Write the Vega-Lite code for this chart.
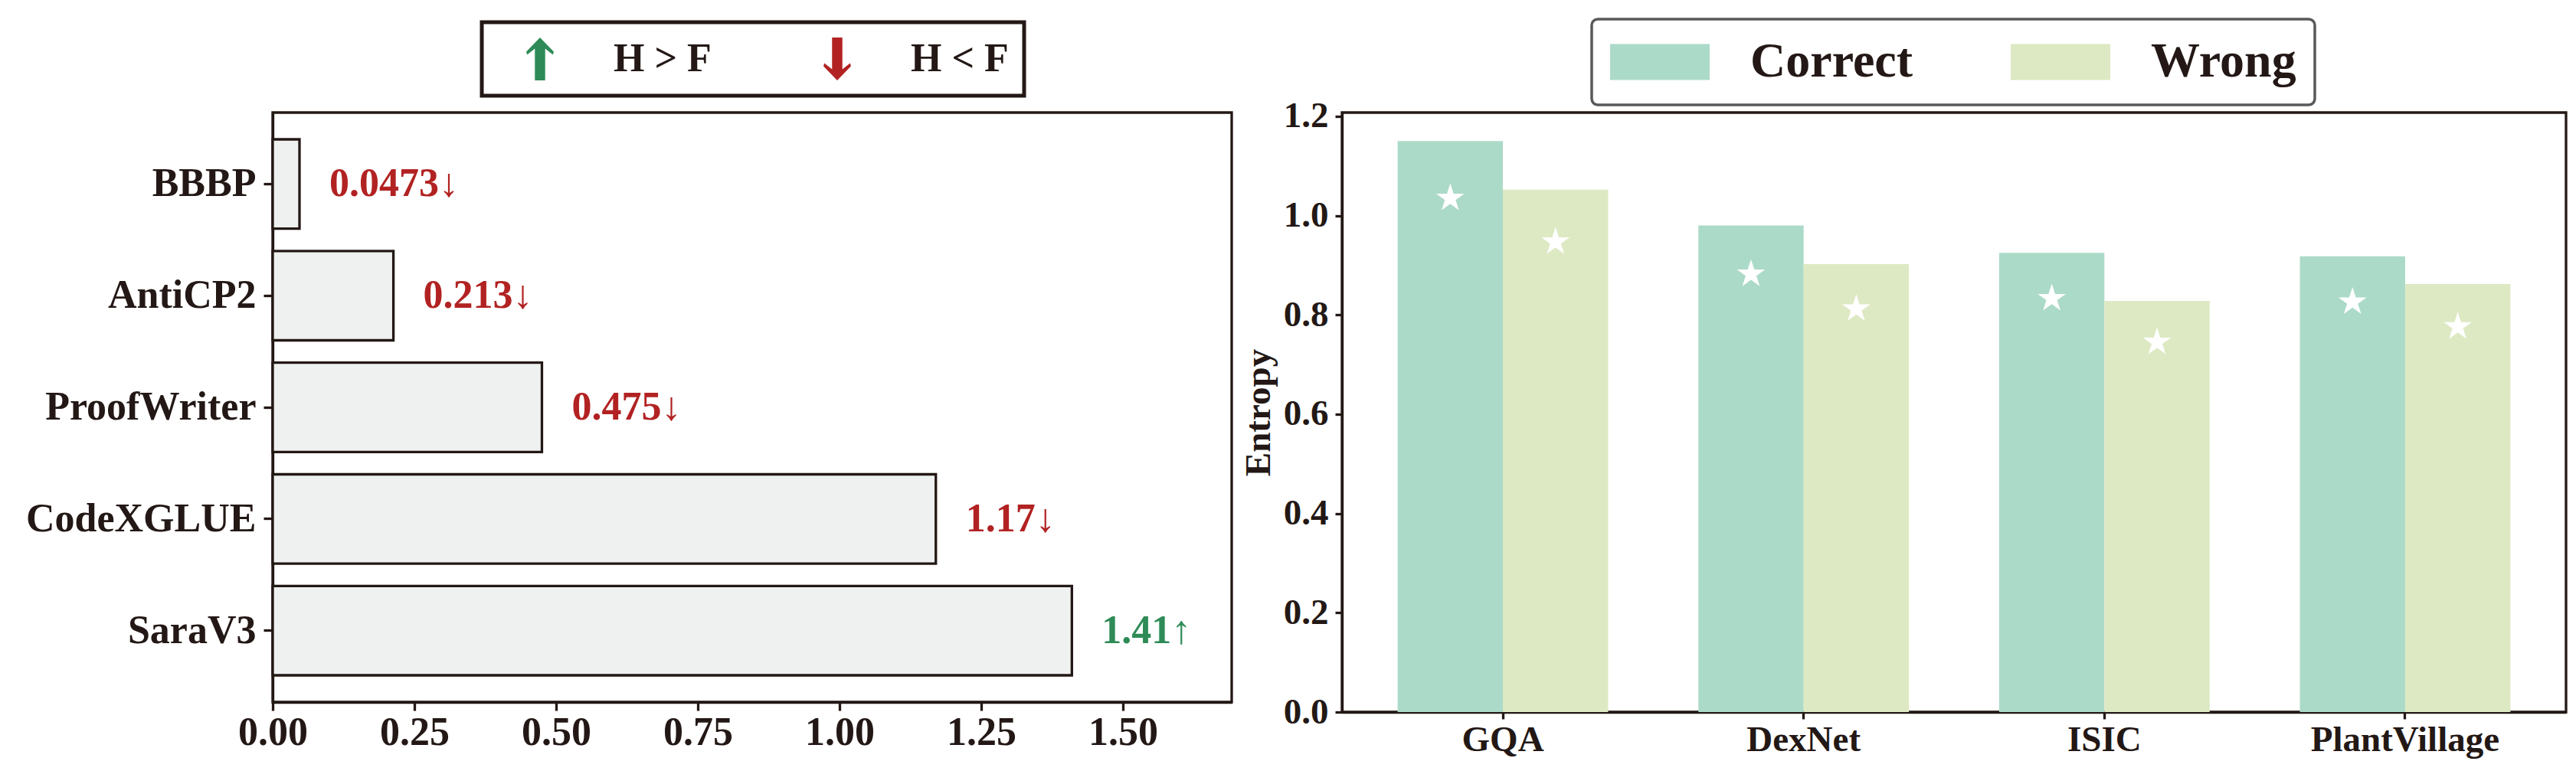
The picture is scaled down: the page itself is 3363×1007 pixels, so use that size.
{
  "$schema": "https://vega.github.io/schema/vega-lite/v6.json",
  "background": "white",
  "padding": {"left": 31, "top": 21, "right": 10, "bottom": 10},
  "bounds": "flush",
  "spacing": 144,
  "resolve": {
    "scale": {"color": "independent"},
    "legend": {"color": "independent"}
  },
  "config": {
    "font": "Liberation Serif",
    "view": {"stroke": "#231815", "strokeWidth": 3.3},
    "axis": {
      "grid": false,
      "labelLimit": 0,
      "labelFlush": false,
      "labelOverlap": false,
      "domainColor": "#231815",
      "domainWidth": 3.3,
      "tickColor": "#231815",
      "tickWidth": 3.3,
      "labelColor": "#231815",
      "labelFont": "Liberation Serif",
      "labelFontWeight": "bold",
      "titleColor": "#231815",
      "titleFont": "Liberation Serif",
      "titleFontWeight": "bold"
    },
    "legend": {
      "labelLimit": 0,
      "labelFont": "Liberation Serif",
      "labelFontWeight": "bold",
      "labelColor": "#231815"
    }
  },
  "hconcat": [
    {
      "width": 1252,
      "height": 770,
      "data": {
        "values": [
          {"dataset": "BBBP", "value": 0.0473, "dir": "H < F", "label": "0.0473↓"},
          {"dataset": "AntiCP2", "value": 0.213, "dir": "H < F", "label": "0.213↓"},
          {"dataset": "ProofWriter", "value": 0.475, "dir": "H < F", "label": "0.475↓"},
          {"dataset": "CodeXGLUE", "value": 1.17, "dir": "H < F", "label": "1.17↓"},
          {"dataset": "SaraV3", "value": 1.41, "dir": "H > F", "label": "1.41↑"}
        ]
      },
      "encoding": {
        "y": {
          "field": "dataset",
          "type": "nominal",
          "sort": ["BBBP", "AntiCP2", "ProofWriter", "CodeXGLUE", "SaraV3"],
          "scale": {"paddingInner": 0.2, "paddingOuter": 0.24},
          "axis": {"title": null, "labelFontSize": 52, "tickSize": 12, "labelPadding": 10}
        },
        "x": {
          "field": "value",
          "type": "quantitative",
          "scale": {"domain": [0, 1.692], "nice": false},
          "axis": {
            "title": null,
            "values": [0, 0.25, 0.5, 0.75, 1, 1.25, 1.5],
            "format": ".2f",
            "labelFontSize": 52,
            "tickSize": 11,
            "labelPadding": 3
          }
        }
      },
      "layer": [
        {
          "mark": {"type": "bar", "fill": "#eff1f0", "stroke": "#231815", "strokeWidth": 3.3}
        },
        {
          "mark": {
            "type": "text",
            "align": "left",
            "baseline": "middle",
            "dx": 39,
            "fontSize": 52,
            "fontWeight": "bold",
            "font": "Liberation Serif"
          },
          "encoding": {
            "text": {"field": "label"},
            "color": {
              "field": "dir",
              "type": "nominal",
              "scale": {"domain": ["H > F", "H < F"], "range": ["#2e8b57", "#b22222"]},
              "legend": {
                "title": null,
                "orient": "none",
                "legendX": 273,
                "legendY": -118,
                "direction": "horizontal",
                "padding": 20,
                "fillColor": "white",
                "strokeColor": "#231815",
                "cornerRadius": 0,
                "symbolSize": 3136,
                "symbolStrokeWidth": 0,
                "symbolOpacity": 1,
                "symbolOffset": 28,
                "labelOffset": 68,
                "columnPadding": 108,
                "labelFontSize": 52,
                "encode": {
                  "legend": {"update": {"strokeWidth": {"value": 5}}},
                  "symbols": {
                    "update": {
                      "shape": {
                        "signal": "datum.value === 'H > F' ? 'M0,-1L0.64,-0.34L0.6,-0.2L0.24,-0.48L0.24,1L-0.24,1L-0.24,-0.48L-0.6,-0.2L-0.64,-0.34Z' : 'M0,1L0.64,0.34L0.6,0.2L0.24,0.48L0.24,-1L-0.24,-1L-0.24,0.48L-0.6,0.2L-0.64,0.34Z'"
                      }
                    }
                  }
                }
              }
            }
          }
        }
      ]
    },
    {
      "width": 1598,
      "height": 783,
      "data": {
        "values": [
          {"dataset": "GQA", "group": "Correct", "entropy": 1.15, "marker": 1.035},
          {"dataset": "GQA", "group": "Wrong", "entropy": 1.052, "marker": 0.947},
          {"dataset": "DexNet", "group": "Correct", "entropy": 0.98, "marker": 0.882},
          {"dataset": "DexNet", "group": "Wrong", "entropy": 0.902, "marker": 0.812},
          {"dataset": "ISIC", "group": "Correct", "entropy": 0.925, "marker": 0.833},
          {"dataset": "ISIC", "group": "Wrong", "entropy": 0.828, "marker": 0.745},
          {"dataset": "PlantVillage", "group": "Correct", "entropy": 0.918, "marker": 0.826},
          {"dataset": "PlantVillage", "group": "Wrong", "entropy": 0.862, "marker": 0.776}
        ]
      },
      "encoding": {
        "x": {
          "field": "dataset",
          "type": "nominal",
          "sort": ["GQA", "DexNet", "ISIC", "PlantVillage"],
          "scale": {"paddingInner": 0.3, "paddingOuter": 0.185},
          "axis": {"title": null, "labelAngle": 0, "labelFontSize": 47, "tickSize": 9, "labelPadding": 4}
        },
        "xOffset": {
          "field": "group",
          "type": "nominal",
          "scale": {"domain": ["Correct", "Wrong"], "paddingInner": 0, "paddingOuter": 0}
        }
      },
      "layer": [
        {
          "mark": {"type": "bar"},
          "encoding": {
            "y": {
              "field": "entropy",
              "type": "quantitative",
              "scale": {"domain": [0, 1.2075], "nice": false},
              "axis": {
                "title": "Entropy",
                "titleFontSize": 47,
                "titlePadding": 8,
                "values": [0, 0.2, 0.4, 0.6, 0.8, 1.0, 1.2],
                "format": ".1f",
                "labelFontSize": 47,
                "tickSize": 9,
                "labelPadding": 9
              }
            },
            "color": {
              "field": "group",
              "type": "nominal",
              "scale": {"domain": ["Correct", "Wrong"], "range": ["#acdac8", "#dde9c3"]},
              "legend": {
                "title": null,
                "orient": "none",
                "legendX": 326,
                "legendY": -122,
                "direction": "horizontal",
                "padding": 24,
                "fillColor": "white",
                "strokeColor": "#595959",
                "cornerRadius": 8,
                "symbolType": "M-2.03,-0.734H2.03V0.734H-2.03Z",
                "symbolSize": 4096,
                "symbolStrokeWidth": 0,
                "symbolOpacity": 1,
                "symbolOffset": 33,
                "labelOffset": 86,
                "columnPadding": 128,
                "labelFontSize": 64,
                "encode": {"legend": {"update": {"strokeWidth": {"value": 3.5}}}}
              }
            }
          }
        },
        {
          "mark": {
            "type": "point",
            "shape": "M0,-1L0.2245,-0.309L0.9511,-0.309L0.3633,0.118L0.5878,0.809L0,0.382L-0.5878,0.809L-0.3633,0.118L-0.9511,-0.309L-0.2245,-0.309Z",
            "filled": true,
            "fill": "white",
            "opacity": 1,
            "strokeWidth": 0,
            "size": 1490
          },
          "encoding": {
            "y": {"field": "marker", "type": "quantitative"}
          }
        }
      ]
    }
  ]
}
